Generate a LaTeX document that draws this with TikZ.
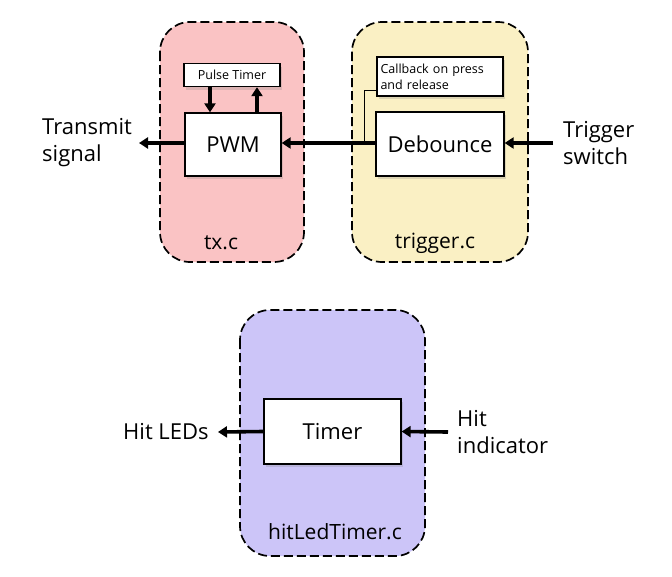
\documentclass[tikz,border=0pt]{standalone}
\usepackage{fontspec}
\setmainfont{Open Sans}
\usetikzlibrary{arrows.meta,shadows}
\definecolor{pinkfill}{HTML}{FAC3C4}
\definecolor{yellowfill}{HTML}{FAF0C4}
\definecolor{lavfill}{HTML}{CCC5F8}
\tikzset{
  container/.style={draw=black, line width=1.7pt, dash pattern=on 9pt off 4pt, rounded corners=30pt},
  blockbox/.style={draw=black, line width=1.3pt, fill=white, drop shadow={shadow xshift=2pt, shadow yshift=-3pt, opacity=0.25}, inner sep=0pt},
  flow/.style={line width=3.6pt, -{Triangle[length=9pt,width=11pt]}},
  thin/.style={line width=0.9pt},
  lbl/.style={font=\fontsize{22}{27}\selectfont, align=left, inner sep=0pt},
  big/.style={font=\fontsize{22}{26}\selectfont},
  small/.style={font=\fontsize{12.5}{16}\selectfont},
  filelbl/.style={font=\fontsize{21}{24}\selectfont},
}
\begin{document}
\begin{tikzpicture}[x=1pt,y=-1pt]
\useasboundingbox (0,0) rectangle (672,576);
% containers
\draw[container, fill=pinkfill] (160,22) rectangle (304,262);
\draw[container, fill=yellowfill] (352,22) rectangle (528,262);
\draw[container, fill=lavfill] (240,310) rectangle (425,556);
\node[filelbl] (txl) at (221,243) {tx.c};
\node[filelbl] (trl) at (435,243) {trigger.c};
\node[filelbl] (hll) at (335,532) {hitLedTimer.c};
% blocks
\node[blockbox, small, minimum width=96pt, minimum height=23pt] (pulse) at (232,75) {Pulse Timer};
\node[blockbox, big, minimum width=96pt, minimum height=63pt] (pwm) at (233,144.5) {PWM};
\node[blockbox, small, minimum width=126pt, minimum height=39pt, align=left, text width=119pt] (cb) at (440,76.5) {Callback on press\\and release};
\node[blockbox, big, minimum width=128pt, minimum height=64pt] (deb) at (440,144) {Debounce};
\node[blockbox, big, minimum width=137pt, minimum height=65pt] (tim) at (332.5,431.5) {Timer};
% external labels
\node[lbl, anchor=west] (tx) at (42,143) {Transmit\\signal};
\node[lbl, anchor=west] (trg) at (563,143) {Trigger\\switch};
\node[lbl, anchor=west] (leds) at (123,432) {Hit LEDs};
\node[lbl, anchor=west] (hit) at (457,432) {Hit\\indicator};
% coordinates
\coordinate (txend) at (139,143);
\coordinate (trgstart) at (553,143);
\coordinate (ledend) at (218,432);
\coordinate (hitstart) at (448,432);
\coordinate (cbbend) at (364,90);
\coordinate (cbjoin) at (364,143);
% connectors
\draw[flow] (pwm.west |- txend) -- (txend);
\draw[flow] (deb.west |- 0,143) -- (pwm.east |- 0,143);
\draw[flow] (trgstart) -- (deb.east |- trgstart);
\draw[flow] (pulse.south -| 210,0) -- (pwm.north -| 210,0);
\draw[flow] (pwm.north -| 257,0) -- (pulse.south -| 257,0);
\draw[thin] (cb.west |- cbbend) -- (cbbend) -- (cbjoin);
\draw[flow] (tim.west) -- (ledend);
\draw[flow] (hitstart) -- (tim.east);
\end{tikzpicture}
\end{document}
